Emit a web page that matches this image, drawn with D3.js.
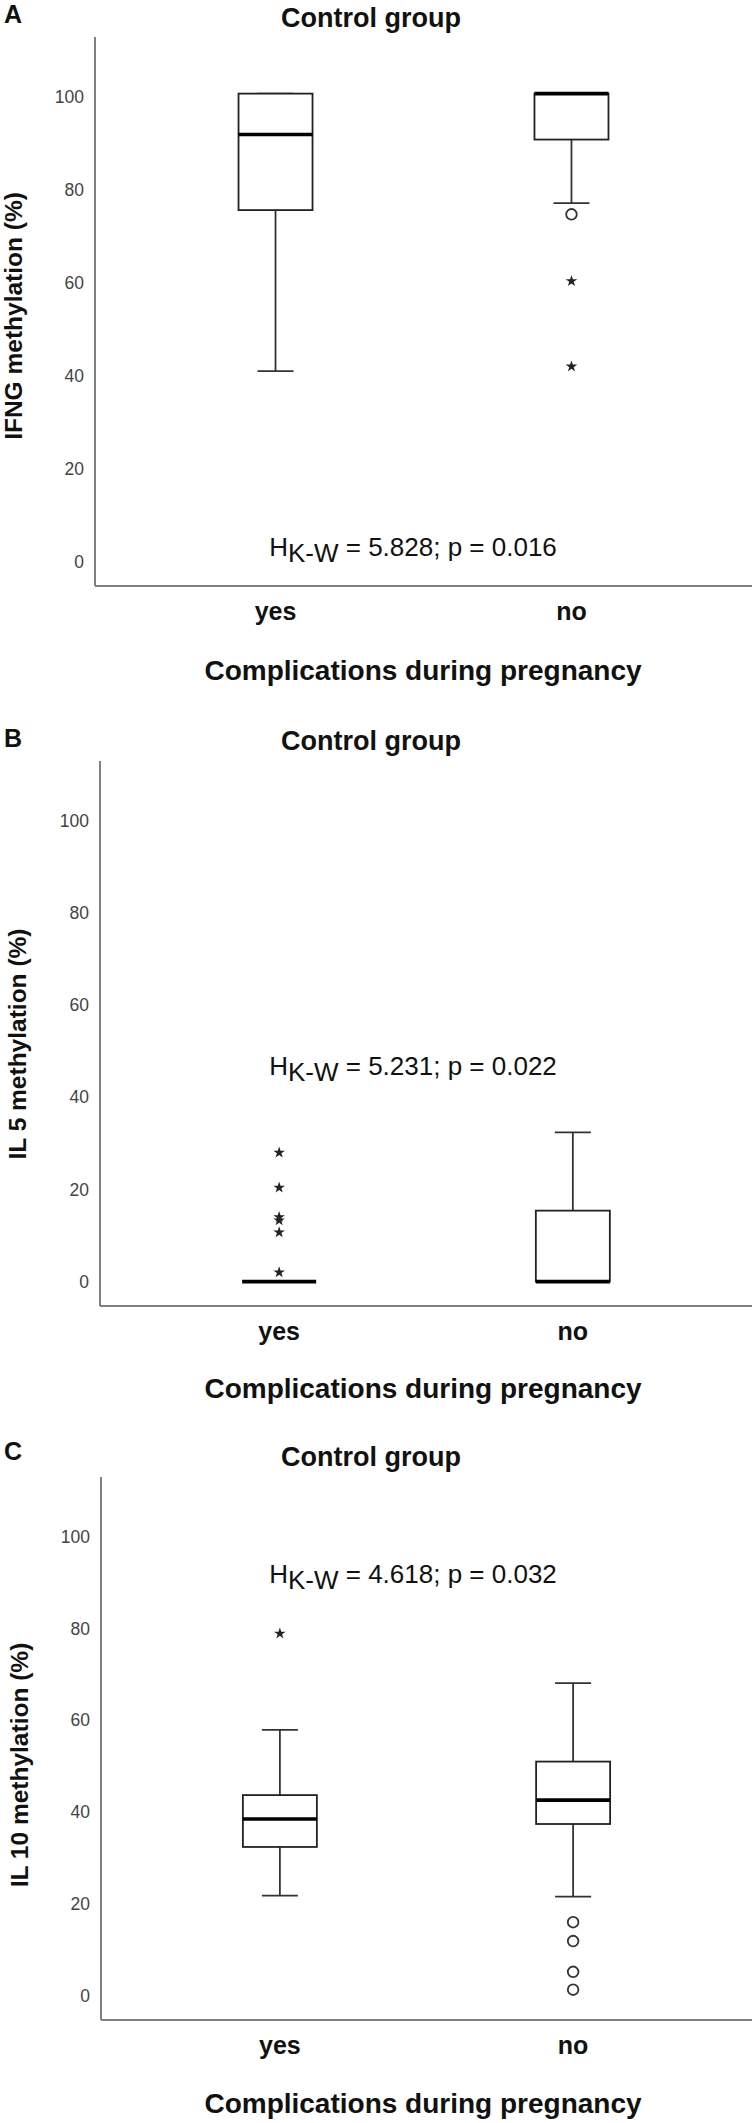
<!DOCTYPE html>
<html lang='en'>
<head>
<meta charset='utf8'>
<title>Control group boxplots</title>
<script src="https://cdn.jsdelivr.net/npm/d3@7/dist/d3.min.js"></script>
<style>
  body { margin: 0; background: #fff; }
  svg { display: block; font-family: 'Liberation Sans', Arial, sans-serif; }
</style>
</head>
<body>
<svg id='fig' width='755' height='2123'></svg>
<script>
// categories and labels
var categories = ['yes', 'no'];
var yTicks = [0, 20, 40, 60, 80, 100];
var letters = ['A', 'B', 'C'];
var titles = ['Control group', 'Control group', 'Control group'];
var yTitles = ['IFNG methylation (%)', 'IL 5 methylation (%)', 'IL 10 methylation (%)'];
var xTitle = 'Complications during pregnancy';
var statH = ['5.828', '5.231', '4.618'];
var statP = ['0.016', '0.022', '0.032'];

// box stats per category: [whisker low, q1, median, q3, whisker high]
var ifngBox = [[41, 75.7, 92, 100.8, 100.8], [77.2, 90.9, 100.8, 100.8, 100.8]];
var ifngCircles = [[], [74.8]];
var ifngStars = [[], [60.4, 42]];

var il5Box = [[0, 0, 0, 0, 0], [0, 0, 0, 15.4, 32.4]];
var il5Circles = [[], []];
var il5Stars = [[28, 20.4, 14, 13.3, 10.7, 2], []];

var il10Box = [[21.8, 32.4, 38.5, 43.7, 57.9], [21.6, 37.4, 42.6, 51, 68.1]];
var il10Circles = [[], [16, 11.9, 5.2, 1.3]];
var il10Stars = [[78.9], []];

var boxes = [ifngBox, il5Box, il10Box];
var circles = [ifngCircles, il5Circles, il10Circles];
var stars = [ifngStars, il5Stars, il10Stars];

// page layout of the three panels
var layout = [
    {top: 37, base: 586, axisX: 95, letterY: 23, titleY: 27, yTitleX: 22, yTitleY: 316, statY: 556, labelY: 620, xTitleY: 680},
    {top: 761, base: 1306, axisX: 100, letterY: 747, titleY: 750, yTitleX: 26, yTitleY: 1044, statY: 1075, labelY: 1340, xTitleY: 1398},
    {top: 1477, base: 2020, axisX: 101, letterY: 1460, titleY: 1466, yTitleX: 28, yTitleY: 1765, statY: 1583, labelY: 2054, xTitleY: 2113}
];
var rightX = 752;
var boxW = 74, capW = 36;

var svg = d3.select('#fig');

var drawPanel = function(i) {
    var L = layout[i];
    var g = svg.append('g').attr('class', 'panel-' + letters[i]);

    var y = d3.scaleLinear().domain([-5.3, 113]).range([L.base, L.top]);
    var x = d3.scalePoint().domain(categories).range([L.axisX, rightX]).padding(0.61);

    g.append('text')
        .attr('x', 4).attr('y', L.letterY)
        .attr('font-size', 25).attr('font-weight', 'bold').attr('fill', '#111')
        .text(letters[i]);

    g.append('text')
        .attr('x', 371).attr('y', L.titleY)
        .attr('text-anchor', 'middle')
        .attr('font-size', 27).attr('font-weight', 'bold').attr('fill', '#111')
        .text(titles[i]);

    // y axis: labels only, SPSS style line drawn separately
    var yAxis = g.append('g')
        .attr('transform', 'translate(' + L.axisX + ',0)')
        .call(d3.axisLeft(y).tickValues(yTicks).tickSize(0).tickPadding(11));
    yAxis.select('.domain').remove();
    yAxis.selectAll('text')
        .attr('font-size', 17.5).attr('fill', '#444')
        .attr('font-family', "'Liberation Sans', Arial, sans-serif");

    g.append('line')
        .attr('x1', L.axisX).attr('x2', L.axisX)
        .attr('y1', L.top).attr('y2', L.base)
        .attr('stroke', '#808080').attr('stroke-width', 2);
    g.append('line')
        .attr('x1', L.axisX).attr('x2', rightX)
        .attr('y1', L.base).attr('y2', L.base)
        .attr('stroke', '#808080').attr('stroke-width', 2.2);

    g.selectAll('.xlab')
        .data(categories)
        .enter().append('text')
        .attr('class', 'xlab')
        .attr('x', function(d) { return x(d); })
        .attr('y', L.labelY)
        .attr('text-anchor', 'middle')
        .attr('font-size', 25).attr('font-weight', 'bold').attr('fill', '#111')
        .text(function(d) { return d; });

    g.append('text')
        .attr('x', 423).attr('y', L.xTitleY)
        .attr('text-anchor', 'middle')
        .attr('font-size', 28).attr('font-weight', 'bold').attr('fill', '#111')
        .text(xTitle);

    g.append('text')
        .attr('transform', 'translate(' + L.yTitleX + ',' + L.yTitleY + ') rotate(-90)')
        .attr('text-anchor', 'middle')
        .attr('font-size', 24.5).attr('font-weight', 'bold').attr('fill', '#111')
        .text(yTitles[i]);

    // Kruskal-Wallis result
    var st = g.append('text')
        .attr('x', 413).attr('y', L.statY)
        .attr('text-anchor', 'middle')
        .attr('font-size', 26).attr('fill', '#111');
    st.append('tspan').text('H');
    st.append('tspan').attr('dy', 6).text('K-W');
    st.append('tspan').attr('dy', -6).text(' = ' + statH[i] + '; p = ' + statP[i]);

    // boxes
    categories.forEach(function(c, k) {
        var b = boxes[i][k];
        var cx = x(c);
        var bg = g.append('g');
        bg.append('line')
            .attr('x1', cx).attr('x2', cx).attr('y1', y(b[0])).attr('y2', y(b[1]))
            .attr('stroke', '#333').attr('stroke-width', 1.8);
        bg.append('line')
            .attr('x1', cx).attr('x2', cx).attr('y1', y(b[3])).attr('y2', y(b[4]))
            .attr('stroke', '#333').attr('stroke-width', 1.8);
        [b[0], b[4]].forEach(function(v) {
            bg.append('line')
                .attr('x1', cx - capW / 2).attr('x2', cx + capW / 2)
                .attr('y1', y(v)).attr('y2', y(v))
                .attr('stroke', '#333').attr('stroke-width', 1.8);
        });
        bg.append('rect')
            .attr('x', cx - boxW / 2).attr('width', boxW)
            .attr('y', y(b[3])).attr('height', y(b[1]) - y(b[3]))
            .attr('fill', '#fff').attr('stroke', '#222').attr('stroke-width', 1.8);
        bg.append('line')
            .attr('x1', cx - boxW / 2).attr('x2', cx + boxW / 2)
            .attr('y1', y(b[2])).attr('y2', y(b[2]))
            .attr('stroke', '#000').attr('stroke-width', 3.6);

        bg.selectAll('.circ')
            .data(circles[i][k])
            .enter().append('circle')
            .attr('class', 'circ')
            .attr('cx', cx).attr('cy', function(d) { return y(d); })
            .attr('r', 5.3)
            .attr('fill', 'none').attr('stroke', '#333').attr('stroke-width', 1.8);

        bg.selectAll('.star')
            .data(stars[i][k])
            .enter().append('path')
            .attr('class', 'star')
            .attr('transform', function(d) { return 'translate(' + cx + ',' + y(d) + ')'; })
            .attr('d', d3.symbol().type(d3.symbolStar).size(42))
            .attr('fill', '#222');
    });
};

for (var i = 0; i < 3; i++) {
    drawPanel(i);
}
</script>
</body>
</html>
